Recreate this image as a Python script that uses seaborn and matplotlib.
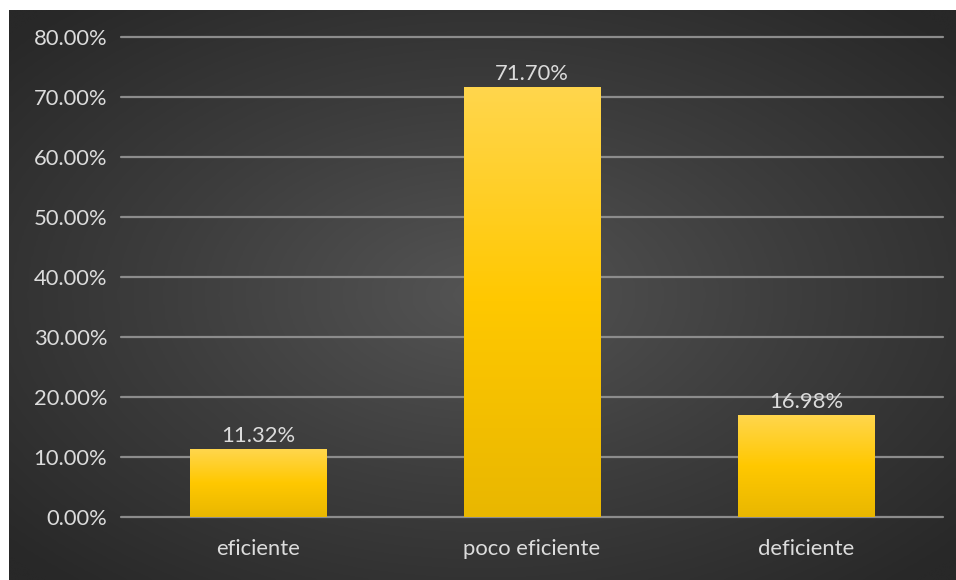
import numpy as np
import pandas as pd
import matplotlib
matplotlib.use("Agg")
import matplotlib.pyplot as plt
import seaborn as sns
from matplotlib.colors import LinearSegmentedColormap

categories = ["eficiente", "poco eficiente", "deficiente"]
values = [0.1132, 0.7170, 0.1698]
y_ticks = [0.0, 0.1, 0.2, 0.3, 0.4, 0.5, 0.6, 0.7, 0.8]
y_tick_labels = ["0.00%", "10.00%", "20.00%", "30.00%", "40.00%",
                 "50.00%", "60.00%", "70.00%", "80.00%"]
value_labels = ["11.32%", "71.70%", "16.98%"]

sns.set_theme(style="dark")
plt.rcParams["font.family"] = ["Lato", "DejaVu Sans"]

W, H = 956, 580
FS = 15.8
TXT = "#dcdcdc"
fig = plt.figure(figsize=(W / 100, H / 100), dpi=100, facecolor="white")

# dark panel with a soft radial highlight
bg = fig.add_axes([9 / W, 0, 1 - 9 / W, (H - 10) / H])
bg.set_axis_off()
gx, gy = np.meshgrid(np.linspace(-1, 1, 400), np.linspace(-1, 1, 250))
r = np.sqrt(gx ** 2 + gy ** 2)
r = np.clip(r / 1.35, 0, 1)
bg_cmap = LinearSegmentedColormap.from_list("panel", ["#545454", "#3d3d3d", "#282828"])
bg.imshow(r, cmap=bg_cmap, aspect="auto", extent=[0, 1, 0, 1], vmin=0, vmax=1,
          interpolation="bicubic")
bg.set_xlim(0, 1)
bg.set_ylim(0, 1)

ax = fig.add_axes([121 / W, (H - 517) / H, 822 / W, 480 / H])
ax.set_facecolor("none")
df = pd.DataFrame({"categoria": categories, "valor": values})
sns.barplot(data=df, x="categoria", y="valor", ax=ax, width=0.5,
            color="#ffc800", saturation=1, zorder=3)

ax.set_yticks(y_ticks)
ax.set_yticklabels(y_tick_labels)
ax.set_xlabel("")
ax.set_ylabel("")
for s in ax.spines.values():
    s.set_visible(False)
ax.grid(axis="y", color="#8c8c8c", linewidth=1.6, zorder=1)
ax.grid(axis="x", visible=False)
ax.set_axisbelow(True)
for gl in ax.get_ygridlines():
    gl.set_clip_on(False)
ax.tick_params(axis="y", colors=TXT, labelsize=FS, length=0, pad=10)
ax.tick_params(axis="x", colors=TXT, labelsize=FS, length=0, pad=16)

# vertical yellow gradient inside each bar
bar_cmap = LinearSegmentedColormap.from_list("bar", ["#e9b700", "#ffc800", "#ffd64d"])
grad = np.linspace(0, 1, 256).reshape(-1, 1)
for patch in ax.patches:
    x0, y0 = patch.get_x(), patch.get_y()
    w, h = patch.get_width(), patch.get_height()
    patch.set_facecolor("none")
    patch.set_edgecolor("none")
    im = ax.imshow(grad, cmap=bar_cmap, aspect="auto", origin="lower",
                   extent=[x0, x0 + w, y0, y0 + h], zorder=3)
    im.set_clip_path(patch)

ax.set_xlim(-0.5, 2.5)
ax.set_ylim(0, 0.8)

for i, (v, lab) in enumerate(zip(values, value_labels)):
    ax.annotate(lab, xy=(i, v), xytext=(0, 2), textcoords="offset points",
                ha="center", va="bottom", color=TXT, fontsize=FS, zorder=5)

fig.savefig("out.png", dpi=100, facecolor="white")
